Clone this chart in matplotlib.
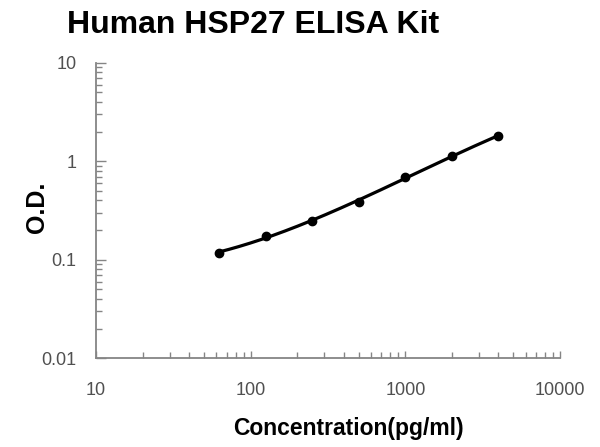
import numpy as np
import matplotlib.pyplot as plt
from matplotlib.ticker import LogLocator, NullFormatter, FixedLocator

# standard curve data
concentration = [62.5, 125, 250, 500, 1000, 2000, 4000]   # pg/ml
od = [0.118, 0.174, 0.249, 0.385, 0.695, 1.127, 1.81]
x_ticks = [10, 100, 1000, 10000]
x_tick_labels = ['10', '100', '1000', '10000']
y_ticks = [0.01, 0.1, 1, 10]
y_tick_labels = ['0.01', '0.1', '1', '10']

plt.rcParams['font.family'] = ['Liberation Sans', 'DejaVu Sans']

fig = plt.figure(figsize=(6, 4.47), dpi=100)
ax = fig.add_axes([0.16, 0.1984, 0.7733, 0.6613])

# trend line: polynomial fit in log-log space, drawn between first and last standard
lx = np.log10(concentration)
ly = np.log10(od)
coef = np.polyfit(lx, ly, 3)
xs = np.linspace(lx[0], lx[-1], 200)
ax.plot(10**xs, 10**np.polyval(coef, xs), color='black', lw=2.3, solid_capstyle='round')
ax.plot(concentration, od, 'o', color='black', markersize=6)

ax.set_xscale('log')
ax.set_yscale('log')
ax.set_xlim(10, 10000)
ax.set_ylim(0.01, 10)

spine_col = '#858585'
for side in ['top', 'right']:
    ax.spines[side].set_visible(False)
for side in ['left', 'bottom']:
    ax.spines[side].set_color(spine_col)
    ax.spines[side].set_linewidth(1.3)

ax.xaxis.set_major_locator(FixedLocator(x_ticks))
ax.yaxis.set_major_locator(FixedLocator(y_ticks))
ax.set_xticklabels(x_tick_labels)
ax.set_yticklabels(y_tick_labels)
ax.xaxis.set_minor_locator(LogLocator(base=10, subs=np.arange(2, 10)))
ax.yaxis.set_minor_locator(LogLocator(base=10, subs=np.arange(2, 10)))
ax.xaxis.set_minor_formatter(NullFormatter())
ax.yaxis.set_minor_formatter(NullFormatter())

ax.tick_params(axis='x', which='major', direction='in', length=5, width=1, color=spine_col,
               pad=17, labelsize=13, labelcolor='#505050')
ax.tick_params(axis='x', which='minor', direction='in', length=4, width=1, color=spine_col)
ax.tick_params(axis='y', which='major', direction='in', length=7, width=1, color=spine_col,
               pad=14, labelsize=13, labelcolor='#505050')
ax.tick_params(axis='y', which='minor', direction='in', length=4.5, width=1, color=spine_col)

fig.text(253 / 600, 1 - 25 / 447, 'Human HSP27 ELISA Kit', ha='center', va='center',
         fontsize=23, fontweight='bold', color='black')
fig.text(348 / 600, 1 - 429 / 447, 'Concentration(pg/ml)', ha='center', va='center',
         fontsize=16.5, fontweight='bold', color='black')
fig.text(37 / 600, 1 - 207 / 447, 'O.D.', ha='center', va='center', rotation=90,
         fontsize=18, fontweight='bold', color='black')

fig.savefig('out.png', dpi=100)
